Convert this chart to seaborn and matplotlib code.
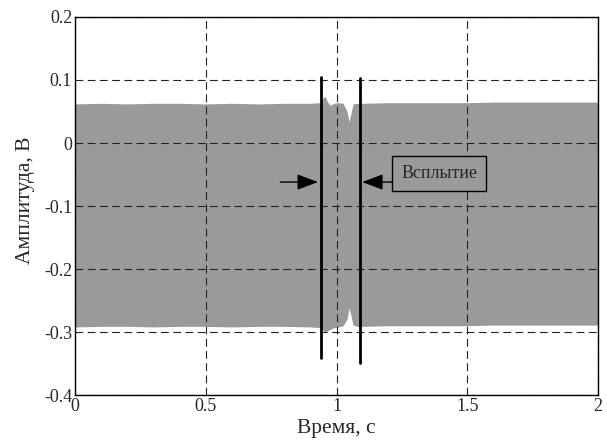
import numpy as np
import seaborn as sns
import matplotlib.pyplot as plt

# signal envelope (time, upper edge, lower edge)
time_s = [0.0, 0.1, 0.2, 0.3, 0.4, 0.5, 0.6, 0.7, 0.8, 0.9, 0.94, 0.95, 0.956, 0.965, 0.975,
          0.99, 1.007, 1.025, 1.04, 1.048, 1.056, 1.063, 1.08, 1.1, 1.2, 1.3, 1.4, 1.5,
          1.6, 1.7, 1.8, 1.9, 2.0]
upper = [0.062, 0.063, 0.062, 0.063, 0.063, 0.062, 0.063, 0.062, 0.063, 0.063, 0.064, 0.072,
         0.074, 0.066, 0.060, 0.063, 0.064, 0.063, 0.050, 0.034, 0.048, 0.062, 0.063, 0.063,
         0.064, 0.064, 0.064, 0.064, 0.065, 0.065, 0.065, 0.065, 0.065]
lower = [-0.292, -0.291, -0.291, -0.292, -0.291, -0.291, -0.292, -0.291, -0.291, -0.292,
         -0.293, -0.298, -0.300, -0.298, -0.296, -0.293, -0.292, -0.290, -0.280, -0.262,
         -0.275, -0.289, -0.291, -0.291, -0.290, -0.290, -0.290, -0.290, -0.289, -0.289,
         -0.289, -0.289, -0.289]

# markers of the surfacing interval
marker_x = [0.941, 1.090]
marker_y0 = [-0.341, -0.349]
marker_y1 = [0.105, 0.103]
event_label = "Всплытие"

sns.set_style("white")
plt.rcParams['font.family'] = ['Liberation Serif', 'DejaVu Serif']

fig = plt.figure(figsize=(6.07, 4.46), dpi=100)
ax = fig.add_axes([0.1236, 0.1143, 0.8616, 0.8476])

ax.fill_between(time_s, lower, upper, color="#9a9a9a", lw=0, zorder=1)

for xm, y0, y1 in zip(marker_x, marker_y0, marker_y1):
    sns.lineplot(x=[xm, xm], y=[y0, y1], color="black", linewidth=2,
                 estimator=None, sort=False, ax=ax, zorder=4)

arrow_kw = dict(arrowstyle="-|>,head_length=0.8,head_width=0.3", color="black",
                lw=1, mutation_scale=16, shrinkA=0, shrinkB=0)
ax.annotate("", xy=(marker_x[0] - 0.012, -0.062), xytext=(0.785, -0.062),
            arrowprops=arrow_kw, zorder=5)
ax.annotate("", xy=(marker_x[1] + 0.008, -0.062), xytext=(1.224, -0.062),
            arrowprops=arrow_kw, zorder=5)
ax.text(1.393, -0.048, event_label, ha="center", va="center", fontsize=13, zorder=6,
        bbox=dict(boxstyle="square,pad=0.5", facecolor="#9a9a9a", edgecolor="black", lw=1))

ax.set_xlim(0, 2)
ax.set_ylim(-0.4, 0.2)
ax.set_xticks([0, 0.5, 1, 1.5, 2])
ax.set_xticklabels(["0", "0.5", "1", "1.5", "2"])
ax.set_yticks([-0.4, -0.3, -0.2, -0.1, 0, 0.1, 0.2])
ax.set_yticklabels(["-0.4", "-0.3", "-0.2", "-0.1", "0", "0.1", "0.2"])
ax.grid(True, color="#222222", linestyle=(0, (7, 4)), linewidth=0.8)
ax.set_axisbelow(False)
for gl in ax.get_xgridlines() + ax.get_ygridlines():
    gl.set_zorder(3)
ax.tick_params(direction="in", length=3, labelsize=13, pad=2)
for sp in ax.spines.values():
    sp.set_color("black")
    sp.set_linewidth(1)
    sp.set_zorder(7)

ax.set_xlabel("Время, с", fontsize=15.5, labelpad=3)
ax.set_ylabel("Амплитуда, В", fontsize=15.5, labelpad=4)
ax.yaxis.set_label_coords(-0.076, 0.515)

fig.savefig("out.png", dpi=100)
